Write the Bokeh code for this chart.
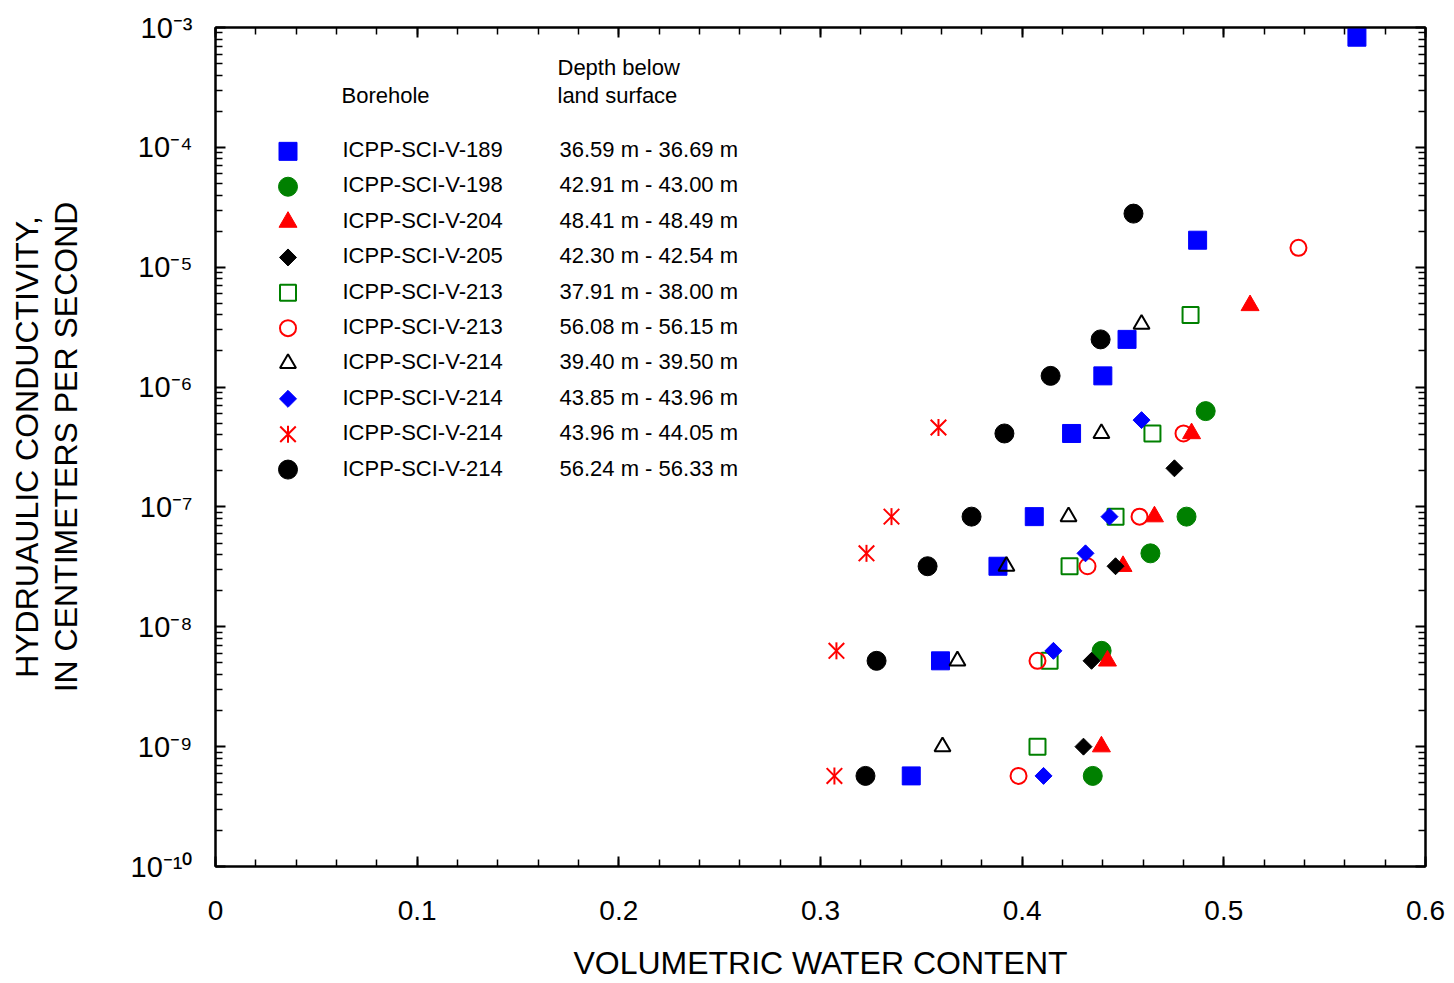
import numpy as np
from bokeh.plotting import figure
from bokeh.models import (Range1d, LinearAxis, LogAxis, FixedTicker, Label, LinearScale)
from bokeh.embed import file_html
from bokeh.resources import INLINE

# ---------------- DATA ----------------
boreholes = ["ICPP-SCI-V-189", "ICPP-SCI-V-198", "ICPP-SCI-V-204", "ICPP-SCI-V-205",
             "ICPP-SCI-V-213", "ICPP-SCI-V-213", "ICPP-SCI-V-214", "ICPP-SCI-V-214",
             "ICPP-SCI-V-214", "ICPP-SCI-V-214"]
depths = ["36.59 m - 36.69 m", "42.91 m - 43.00 m", "48.41 m - 48.49 m", "42.30 m - 42.54 m",
          "37.91 m - 38.00 m", "56.08 m - 56.15 m", "39.40 m - 39.50 m", "43.85 m - 43.96 m",
          "43.96 m - 44.05 m", "56.24 m - 56.33 m"]

x_v189 = [0.566, 0.487, 0.452, 0.440, 0.4245, 0.406, 0.388, 0.3595, 0.345]
y_v189 = [8.3e-4, 1.68e-5, 2.5e-6, 1.24e-6, 4.1e-7, 8.3e-8, 3.2e-8, 5.2e-9, 5.7e-10]

x_v198 = [0.491, 0.4815, 0.4636, 0.4394, 0.435]
y_v198 = [6.3e-7, 8.3e-8, 4.1e-8, 6.3e-9, 5.7e-10]

x_v204 = [0.513, 0.484, 0.4656, 0.450, 0.4423, 0.4393]
y_v204 = [4.8e-6, 4.1e-7, 8.3e-8, 3.2e-8, 5.2e-9, 1.0e-9]

x_v205 = [0.4755, 0.4463, 0.4344, 0.4304]
y_v205 = [2.1e-7, 3.2e-8, 5.2e-9, 1.0e-9]

x_v213a = [0.4835, 0.4646, 0.4463, 0.4235, 0.4136, 0.4076]
y_v213a = [4.0e-6, 4.1e-7, 8.3e-8, 3.2e-8, 5.2e-9, 1.0e-9]

x_v213b = [0.537, 0.480, 0.4582, 0.4324, 0.4076, 0.3982]
y_v213b = [1.45e-5, 4.1e-7, 8.3e-8, 3.2e-8, 5.2e-9, 5.7e-10]

x_v214a = [0.4592, 0.4393, 0.423, 0.3922, 0.3679, 0.3605]
y_v214a = [3.35e-6, 4.1e-7, 8.3e-8, 3.2e-8, 5.2e-9, 1.0e-9]

x_v214b = [0.4592, 0.4433, 0.4314, 0.4155, 0.4106]
y_v214b = [5.3e-7, 8.3e-8, 4.1e-8, 6.3e-9, 5.7e-10]

x_v214c = [0.3585, 0.3352, 0.3228, 0.3079, 0.3069]
y_v214c = [4.6e-7, 8.3e-8, 4.1e-8, 6.3e-9, 5.7e-10]

x_v214d = [0.4552, 0.4389, 0.4141, 0.3912, 0.3749, 0.3531, 0.3278, 0.3223]
y_v214d = [2.8e-5, 2.5e-6, 1.24e-6, 4.1e-7, 8.3e-8, 3.2e-8, 5.2e-9, 5.7e-10]

x_tick_values = [0.0, 0.1, 0.2, 0.3, 0.4, 0.5, 0.6]
x_tick_labels = ["0", "0.1", "0.2", "0.3", "0.4", "0.5", "0.6"]
y_exponents = [-3, -4, -5, -6, -7, -8, -9, -10]

x_title = "VOLUMETRIC WATER CONTENT"
y_title_1 = "HYDRUAULIC CONDUCTIVITY,"
y_title_2 = "IN CENTIMETERS PER SECOND"

# ---------------- STYLES ----------------
FONT = "Liberation Sans"
BLUE, GREEN, RED, BLACK = "#0000FF", "#008000", "#FF0000", "#000000"

series_xy = [(x_v189, y_v189), (x_v198, y_v198), (x_v204, y_v204), (x_v205, y_v205),
             (x_v213a, y_v213a), (x_v213b, y_v213b), (x_v214a, y_v214a), (x_v214b, y_v214b),
             (x_v214c, y_v214c), (x_v214d, y_v214d)]

styles = [
    [dict(marker="square", size=18, fill_color=BLUE, line_color=BLUE, line_width=1)],
    [dict(marker="circle", size=19, fill_color=GREEN, line_color=GREEN, line_width=1)],
    [dict(marker="triangle", size=18, fill_color=RED, line_color=RED, line_width=1)],
    [dict(marker="square", size=12, angle=np.pi / 4, fill_color=BLACK, line_color=BLACK, line_width=1)],
    [dict(marker="square", size=16, fill_color=None, line_color=GREEN, line_width=2)],
    [dict(marker="circle", size=16, fill_color=None, line_color=RED, line_width=2)],
    [dict(marker="triangle", size=16, fill_color=None, line_color=BLACK, line_width=2)],
    [dict(marker="square", size=12, angle=np.pi / 4, fill_color=BLUE, line_color=BLUE, line_width=1)],
    [dict(marker="x", size=22, line_color=RED, line_width=2),
     dict(marker="dash", size=17, angle=np.pi / 2, line_color=RED, line_width=2)],
    [dict(marker="circle", size=19, fill_color=BLACK, line_color=BLACK, line_width=1)],
]

W, H = 1454, 983
LEFT, RIGHT, TOP, BOTTOM = 215, 29, 27, 116
FW, FH = W - LEFT - RIGHT, H - TOP - BOTTOM

p = figure(width=W, height=H, x_range=Range1d(0, 0.6), y_range=Range1d(1e-10, 1e-3),
           y_axis_type="log", output_backend="svg", toolbar_location=None,
           min_border_left=LEFT, min_border_right=RIGHT, min_border_top=TOP,
           min_border_bottom=BOTTOM)
p.grid.visible = False
p.outline_line_color = BLACK
p.outline_line_width = 2
p.background_fill_color = "white"
p.border_fill_color = "white"

# pixel ranges for legend keys
p.extra_x_ranges = {"px": Range1d(0, FW)}
p.extra_y_ranges = {"px": Range1d(0, FH)}
p.extra_x_scales = {"px": LinearScale()}
p.extra_y_scales = {"px": LinearScale()}

x_minor = [round(0.02 * i, 4) for i in range(0, 31)]
y_major = [10.0 ** e for e in y_exponents]
y_minor = [m * 10.0 ** e for e in range(-10, -3) for m in range(2, 10)]

SUP = str.maketrans("-0123456789", "\u207b\u2070\u00b9\u00b2\u00b3\u2074\u2075\u2076\u2077\u2078\u2079")
y_tick_labels = ["10" + str(e).translate(SUP) for e in y_exponents]


def style_axis(ax):
    ax.axis_line_width = 2
    ax.axis_line_color = BLACK
    ax.major_tick_in = 10
    ax.major_tick_out = 0
    ax.minor_tick_in = 7
    ax.minor_tick_out = 0
    ax.major_tick_line_width = 2
    ax.minor_tick_line_width = 1.5
    ax.major_tick_line_color = BLACK
    ax.minor_tick_line_color = BLACK


def hide_labels(ax):
    ax.major_label_text_font_size = "6px"
    ax.major_label_text_color = None
    ax.major_label_standoff = 0


def title_style(ax, size="32px"):
    ax.axis_label_text_font = FONT
    ax.axis_label_text_font_size = size
    ax.axis_label_text_font_style = "normal"
    ax.axis_label_text_color = BLACK


# bottom axis
xa = p.xaxis[0]
xa.ticker = FixedTicker(ticks=x_tick_values, minor_ticks=x_minor)
xa.major_label_overrides = {v: s for v, s in zip(x_tick_values, x_tick_labels)}
xa.major_label_text_font = FONT
xa.major_label_text_font_size = "28px"
xa.major_label_text_color = BLACK
xa.major_label_standoff = 34
xa.axis_label = x_title
xa.axis_label_standoff = 22
title_style(xa)
style_axis(xa)

# left axis (tick labels + inner title line)
ya = p.yaxis[0]
ya.ticker = FixedTicker(ticks=y_major, minor_ticks=y_minor)
ya.major_label_overrides = {v: s for v, s in zip(y_major, y_tick_labels)}
ya.major_label_text_font = FONT
ya.major_label_text_font_size = "29px"
ya.major_label_text_color = BLACK
ya.major_label_standoff = 23
ya.axis_label = y_title_2
ya.axis_label_standoff = 44
title_style(ya)
style_axis(ya)

# outer left "axis" carrying only the first title line
ya_outer = LogAxis(ticker=FixedTicker(ticks=[]), axis_line_color=None,
                   major_tick_line_color=None, minor_tick_line_color=None,
                   axis_label=y_title_1, axis_label_standoff=0)
title_style(ya_outer)
p.add_layout(ya_outer, "left")

top_ax = LinearAxis(ticker=FixedTicker(ticks=x_tick_values, minor_ticks=x_minor))
hide_labels(top_ax)
style_axis(top_ax)
p.add_layout(top_ax, "above")

right_ax = LogAxis(ticker=FixedTicker(ticks=y_major, minor_ticks=y_minor))
hide_labels(right_ax)
style_axis(right_ax)
p.add_layout(right_ax, "right")

# ---------------- DATA MARKS ----------------
for (xs, ys), st in zip(series_xy, styles):
    for s in st:
        p.scatter(xs, ys, **s)

# ---------------- LEGEND ----------------
LEG_FONT = "22px"
hdr = [("Borehole", 341, 95.5), ("Depth below", 557, 67.5), ("land surface", 557, 95.5)]
for t, sx, sy in hdr:
    p.add_layout(Label(x=sx - LEFT, y=H - BOTTOM - sy, x_units="screen", y_units="screen",
                       text=t, text_align="left", text_baseline="middle",
                       text_font=FONT, text_font_size=LEG_FONT, text_color=BLACK))

row0, row_step = 150.0, 35.4
for i, (name, dep) in enumerate(zip(boreholes, depths)):
    cy = row0 + row_step * i
    fy = H - BOTTOM - cy
    p.add_layout(Label(x=342 - LEFT, y=fy, x_units="screen", y_units="screen",
                       text=name, text_align="left", text_baseline="middle",
                       text_font=FONT, text_font_size=LEG_FONT, text_color=BLACK))
    p.add_layout(Label(x=559 - LEFT, y=fy, x_units="screen", y_units="screen",
                       text=dep, text_align="left", text_baseline="middle",
                       text_font=FONT, text_font_size=LEG_FONT, text_color=BLACK))
    for s in styles[i]:
        p.scatter([287.5 - LEFT], [fy - 1.0], x_range_name="px", y_range_name="px", **s)

open("out.html", "w").write(file_html(p, INLINE))
